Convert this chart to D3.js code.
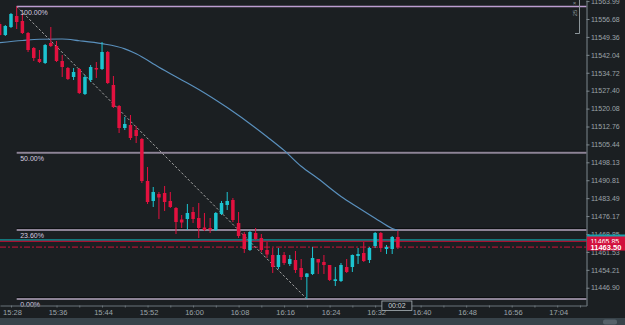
<!DOCTYPE html>
<html>
<head>
<meta charset="utf-8">
<script src="https://cdn.jsdelivr.net/npm/d3@7"></script>
<style>
  body { margin: 0; background: #1b1f22; overflow: hidden; }
  svg { display: block; font-family: "Liberation Sans", Arial, sans-serif; }
</style>
</head>
<body>
<div id="chart"></div>
<script>
// one bar per minute, first bar at 15:26
var firstBar = "15:26";

var opens = [11554.64,11550.14,11553.41,11557.90,11555.86,11550.96,11544.83,11540.34,11538.70,11546.87,
  11545.65,11539.52,11536.66,11532.99,11536.25,11526.04,11531.76,11536.66,11536.25,11543.20,
  11529.72,11521.14,11512.15,11513.38,11511.33,11507.66,11490.50,11482.33,11485.19,11485.60,
  11482.33,11479.47,11474.77,11474.98,11477.84,11475.39,11471.51,11471.30,11470.48,11477.02,
  11480.70,11482.74,11473.34,11468.85,11462.31,11469.26,11467.22,11462.31,11460.27,11455.37,
  11460.27,11456.60,11458.23,11454.96,11451.29,11452.51,11458.64,11457.41,11456.19,11449.65,
  11449.65,11455.37,11455.37,11459.86,11461.09,11458.23,11463.95,11469.26,11462.72,11462.72,
  11467.63];

var highs = [11555.45,11554.23,11559.13,11561.79,11558.72,11551.37,11545.24,11544.01,11546.47,11553.41,
  11547.69,11541.97,11537.07,11536.66,11536.66,11533.80,11537.89,11539.11,11547.28,11543.61,
  11533.39,11521.55,11516.65,11517.46,11512.97,11508.07,11496.22,11488.05,11486.01,11488.46,
  11486.01,11479.88,11476.61,11481.11,11479.88,11481.51,11477.43,11475.39,11477.84,11482.33,
  11486.01,11483.56,11477.84,11469.67,11470.08,11471.30,11468.85,11465.58,11463.13,11463.13,
  11461.50,11460.27,11461.91,11458.64,11452.92,11463.54,11458.64,11460.27,11456.19,11455.37,
  11457.00,11458.64,11460.48,11463.13,11465.58,11463.54,11469.67,11469.67,11464.36,11468.03,
  11470.20];

var lows = [11549.73,11549.73,11553.00,11552.59,11550.55,11543.20,11539.52,11538.70,11538.30,11545.24,
  11539.11,11532.99,11531.76,11531.76,11526.04,11525.63,11530.94,11532.58,11535.84,11530.13,
  11520.32,11510.11,11511.33,11507.25,11506.02,11489.68,11481.11,11479.88,11474.98,11478.25,
  11479.47,11468.85,11471.30,11470.48,11473.34,11467.22,11470.08,11469.26,11470.08,11476.61,
  11478.65,11473.75,11467.22,11461.09,11461.91,11466.40,11461.50,11459.05,11452.92,11454.55,
  11456.19,11455.78,11452.92,11450.06,11442.30,11452.10,11452.51,11452.51,11449.65,11447.61,
  11449.24,11452.92,11453.33,11456.60,11457.41,11457.00,11463.13,11461.50,11460.68,11460.68,
  11462.72];

var closes = [11550.14,11553.82,11558.72,11555.45,11550.96,11544.01,11540.75,11539.11,11546.06,11545.65,
  11539.52,11537.07,11532.17,11535.03,11526.45,11532.99,11537.07,11536.05,11543.20,11530.53,
  11520.73,11512.15,11513.79,11508.07,11508.88,11490.50,11481.92,11486.01,11483.76,11481.92,
  11479.88,11473.75,11473.55,11477.43,11474.98,11471.30,11470.48,11470.69,11477.43,11481.51,
  11482.33,11474.57,11468.03,11462.72,11469.67,11466.81,11462.31,11460.48,11455.37,11460.27,
  11457.00,11458.64,11454.14,11451.29,11452.71,11459.05,11457.21,11456.19,11450.06,11450.35,
  11456.19,11453.33,11460.27,11460.68,11457.82,11463.13,11469.26,11463.13,11463.54,11467.63,
  11463.50];

// moving average (bar index -> value)
var maBars = [0, 4, 7, 11, 14, 18, 22, 24, 28, 32, 35, 40, 47, 50, 53, 56, 60, 63, 66, 69, 70];
var maValues = [11547.0, 11547.9, 11548.4, 11548.5, 11547.8, 11546.6, 11544.5, 11542.5, 11537.0, 11531.8,
  11527.9, 11520.5, 11508.6, 11503.0, 11496.5, 11491.4, 11484.2, 11479.7, 11475.3, 11471.1, 11470.3];

// fibonacci retracement
var fibHighBar = "15:29", fibLowBar = "16:20";
var fibHigh = 11561.79, fibLow = 11442.30;
var fibLevels = [1, 0.5, 0.236, 0];

var askPrice = 11466.40, lastPrice = 11465.85, bidPrice = 11463.50;

var priceTicks = [11563.99, 11556.68, 11549.36, 11542.04, 11534.72, 11527.40, 11520.08, 11512.76, 11505.44,
  11498.13, 11490.81, 11483.49, 11476.17, 11468.85, 11461.53, 11454.21, 11446.90];
var timeTicks = ["15:28", "15:36", "15:44", "15:52", "16:00", "16:08", "16:16", "16:24", "16:32",
  "16:40", "16:48", "16:56", "17:04"];
var barTimer = "00:02", scaleLabel = "25";

function drawChart(id) {
  var width = 625, height = 325,
    plotRight = 586.5, plotBottom = 305.5,
    bg = '#1b1f22', upColor = '#1cc4d0', downColor = '#e3113f',
    axisText = '#9ba4a9', bodyWidth = 3.5;

  var parseTime = d3.timeParse("%H:%M");
  var t0 = parseTime(firstBar);

  var bars = opens.map(function(o, i) {
    return { t: d3.timeMinute.offset(t0, i), o: o, h: highs[i], l: lows[i], c: closes[i] };
  });

  var x = d3.scaleTime()
    .domain([d3.timeSecond.offset(t0, 4), d3.timeSecond.offset(t0, 103 * 60 + 9)])
    .range([0, plotRight]);

  var y = d3.scaleLinear()
    .domain([11439.64, 11564.44])
    .range([plotBottom, 0]);

  var svg = d3.select('#' + id).append('svg')
    .attr('width', width)
    .attr('height', height);

  svg.append('rect').attr('width', width).attr('height', height).attr('fill', bg);

  // scroll bar strip at the bottom
  svg.append('rect').attr('x', 0).attr('y', 318).attr('width', width).attr('height', 7).attr('fill', '#38434a');
  svg.append('rect').attr('x', 603).attr('y', 319.5).attr('width', 14).attr('height', 5).attr('rx', 2).attr('fill', '#56626a');

  var plot = svg.append('g');

  // price lines
  plot.append('line')
    .attr('x1', 0).attr('x2', plotRight)
    .attr('y1', y(askPrice)).attr('y2', y(askPrice))
    .attr('stroke', '#12767b').attr('stroke-width', 2);
  plot.append('line')
    .attr('x1', 0).attr('x2', plotRight)
    .attr('y1', y(lastPrice)).attr('y2', y(lastPrice))
    .attr('stroke', '#a5102f').attr('stroke-width', 1.3);
  plot.append('line')
    .attr('x1', 0).attr('x2', plotRight)
    .attr('y1', y(bidPrice)).attr('y2', y(bidPrice))
    .attr('stroke', '#cf1238').attr('stroke-width', 1)
    .attr('stroke-dasharray', '6,2,2,2');

  // fib levels
  var fibStart = x(parseTime(fibHighBar));
  var fibs = fibLevels.map(function(l) { return { level: l, price: fibLow + (fibHigh - fibLow) * l }; });

  plot.selectAll('.fib-shadow')
    .data(fibs.filter(function(d) { return d.level < 1; }))
    .enter().append('line')
    .attr('x1', fibStart).attr('x2', plotRight)
    .attr('y1', function(d) { return y(d.price) - 1.5; })
    .attr('y2', function(d) { return y(d.price) - 1.5; })
    .attr('stroke', '#0c0e10').attr('stroke-width', 1);

  plot.selectAll('.fib')
    .data(fibs)
    .enter().append('line')
    .attr('x1', fibStart).attr('x2', plotRight)
    .attr('y1', function(d) { return y(d.price); })
    .attr('y2', function(d) { return y(d.price); })
    .attr('stroke', function(d) { return d.level == 1 ? '#bc9dd0' : '#8d8396'; })
    .attr('stroke-width', function(d) { return d.level == 1 ? 1.4 : 2; });

  // fib trend line (high to low)
  plot.append('line')
    .attr('x1', fibStart).attr('y1', y(fibHigh))
    .attr('x2', x(parseTime(fibLowBar))).attr('y2', y(fibLow))
    .attr('stroke', '#a4a4a4').attr('stroke-width', 1)
    .attr('stroke-dasharray', '2.5,2');

  // moving average
  var ma = d3.line()
    .x(function(d) { return x(d3.timeMinute.offset(t0, d[0])); })
    .y(function(d) { return y(d[1]); })
    .curve(d3.curveMonotoneX);

  plot.append('path')
    .datum(maBars.map(function(b, i) { return [b, maValues[i]]; }))
    .attr('d', ma)
    .attr('fill', 'none')
    .attr('stroke', '#5a90bd')
    .attr('stroke-width', 1.2);

  // candles
  var candle = plot.append('g').selectAll('g')
    .data(bars)
    .enter().append('g')
    .attr('fill', function(d) { return d.c >= d.o ? upColor : downColor; })
    .attr('stroke', function(d) { return d.c >= d.o ? upColor : downColor; });

  candle.append('line')
    .attr('x1', function(d) { return x(d.t); })
    .attr('x2', function(d) { return x(d.t); })
    .attr('y1', function(d) { return y(d.h); })
    .attr('y2', function(d) { return y(d.l); })
    .attr('stroke-width', 1);

  candle.append('rect')
    .attr('x', function(d) { return x(d.t) - bodyWidth / 2; })
    .attr('width', bodyWidth)
    .attr('y', function(d) { return y(Math.max(d.o, d.c)); })
    .attr('height', function(d) { return Math.max(1, Math.abs(y(d.o) - y(d.c))); })
    .attr('stroke', 'none');

  // fib labels
  plot.selectAll('.fib-label')
    .data(fibs)
    .enter().append('text')
    .attr('x', fibStart + 3.5)
    .attr('y', function(d) { return y(d.price) + 8.5; })
    .attr('fill', '#d5cde0')
    .style('font-size', '7px')
    .text(function(d) { return d3.format('.2f')(d.level * 100) + '%'; });

  // right price axis
  var yAxis = svg.append('g')
    .attr('transform', 'translate(' + plotRight + ',0)')
    .call(d3.axisRight(y).tickValues(priceTicks).tickSize(3).tickPadding(1.5)
      .tickSizeOuter(0).tickFormat(d3.format('.2f')));
  yAxis.select('.domain').attr('stroke', '#7d878d');
  yAxis.selectAll('.tick line').attr('stroke', '#7d878d');
  yAxis.selectAll('.tick text').attr('fill', axisText).style('font-size', '7px')
    .style('font-family', '"Liberation Sans", Arial, sans-serif');

  // time axis
  var xMinor = svg.append('g')
    .attr('transform', 'translate(0,' + plotBottom + ')')
    .call(d3.axisBottom(x).ticks(d3.timeMinute.every(4)).tickSize(2).tickSizeOuter(0).tickFormat(''));
  xMinor.select('.domain').attr('stroke', '#6b757b');
  xMinor.selectAll('.tick line').attr('stroke', '#6b757b');

  var xAxis = svg.append('g')
    .attr('transform', 'translate(1,' + plotBottom + ')')
    .call(d3.axisBottom(x).tickValues(timeTicks.map(parseTime)).tickSize(0).tickPadding(4.5)
      .tickFormat(d3.timeFormat('%H:%M')));
  xAxis.select('.domain').remove();
  xAxis.selectAll('.tick text').attr('fill', axisText).style('font-size', '7.5px')
    .style('font-family', '"Liberation Sans", Arial, sans-serif');

  // price labels on the axis
  var lab = svg.append('g');
  lab.append('rect').attr('x', plotRight + 0.5).attr('y', y(askPrice) - 5.5)
    .attr('width', width - plotRight).attr('height', 12).attr('fill', '#17a2ab');
  lab.append('rect').attr('x', plotRight + 0.5).attr('y', y(askPrice) - 3.5)
    .attr('width', width - plotRight).attr('height', 13.5).attr('fill', '#d1103c');
  lab.append('text').attr('x', plotRight + 4).attr('y', y(lastPrice)).attr('dy', '0.32em')
    .attr('fill', '#ffffff').style('font-size', '7px').text(d3.format('.2f')(lastPrice));
  lab.append('rect').attr('x', plotRight + 0.5).attr('y', y(bidPrice) - 4)
    .attr('width', width - plotRight).attr('height', 7.5).attr('fill', '#d1103c');
  lab.append('text').attr('x', plotRight + 4).attr('y', y(bidPrice)).attr('dy', '0.35em')
    .attr('fill', '#ffffff').style('font-size', '7.5px').style('font-weight', 'bold')
    .text(d3.format('.2f')(bidPrice));

  // bar timer box
  var lastX = x(bars[bars.length - 1].t);
  var timer = svg.append('g');
  timer.append('rect').attr('x', lastX - 16).attr('y', 301).attr('width', 30).attr('height', 9.5)
    .attr('fill', bg).attr('stroke', '#aab3b8').attr('stroke-width', 0.8);
  timer.append('text').attr('x', lastX - 1).attr('y', 306).attr('dy', '0.35em')
    .attr('text-anchor', 'middle').attr('fill', '#c9cfd2').style('font-size', '7px')
    .text(barTimer);

  // chart scale widget, top right
  var sc = svg.append('g');
  sc.append('path').attr('d', 'M579.5,0V33.5H575')
    .attr('fill', 'none').attr('stroke', '#8d969b').attr('stroke-width', 1);
  sc.append('text').attr('transform', 'translate(576.5,13)rotate(-90)')
    .attr('text-anchor', 'middle').attr('fill', '#8d969b').style('font-size', '6px')
    .text(scaleLabel);
  sc.append('text').attr('x', 574.5).attr('y', 5).attr('text-anchor', 'middle')
    .attr('fill', '#8d969b').style('font-size', '6px').text('×');
}

drawChart('chart');
</script>
</body>
</html>
